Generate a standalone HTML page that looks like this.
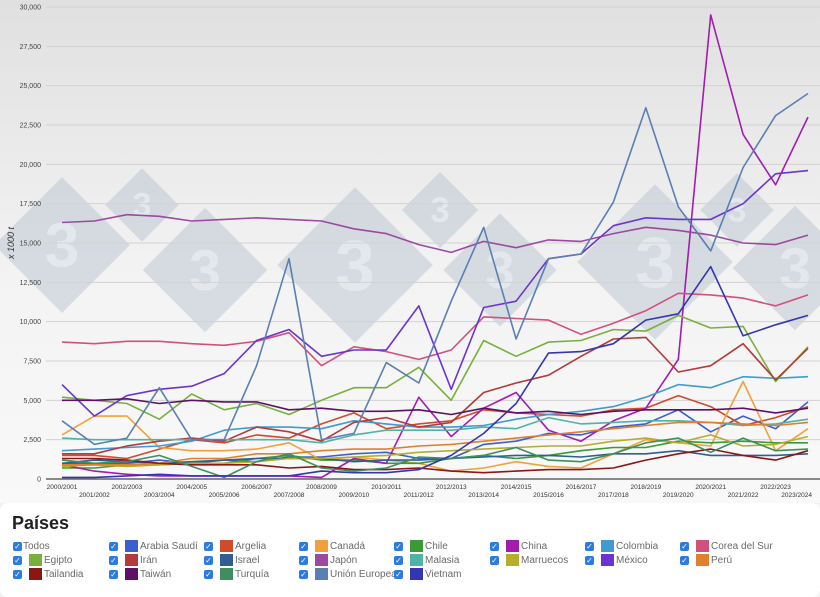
<!DOCTYPE html>
<html><head><meta charset="utf-8">
<style>
body{margin:0;width:820px;height:597px;overflow:hidden;font-family:"Liberation Sans",sans-serif;background:#f2f2f2;}
#wrap{position:relative;width:820px;height:597px;}
svg{position:absolute;left:0;top:0;}
#legend{position:absolute;left:0;top:503px;width:820px;height:94px;background:#fff;border-radius:8px;}
#legend h2{position:absolute;left:12px;top:10px;margin:0;font-size:18px;font-weight:bold;color:#222;}
.item{position:absolute;height:12px;font-size:10px;color:#6a6a6a;white-space:nowrap;}
.cb{position:absolute;left:0;top:1px;width:9px;height:9px;background:#2d7be0;border-radius:2px;color:#fff;font-size:8px;line-height:9px;text-align:center;}
.sw{position:absolute;left:16px;top:-1px;width:13px;height:12px;}
.lb{position:absolute;left:31px;top:0;line-height:12px;}
</style></head><body>
<div id="wrap">
<svg id="chart" width="820" height="503">
<defs><linearGradient id="bg" x1="0" y1="0" x2="0" y2="1"><stop offset="0" stop-color="#e0e0e0"/><stop offset="0.55" stop-color="#f3f3f3"/><stop offset="1" stop-color="#f9f9f9"/></linearGradient></defs>
<rect x="0" y="0" width="820" height="503" fill="url(#bg)"/>
<g id="wm"></g>
<g id="grid"></g><g id="series"></g><g id="axes"></g>
</svg>
<div id="legend"><h2>Países</h2></div>
</div>
<script>
const categories=["2000/2001","2001/2002","2002/2003","2003/2004","2004/2005","2005/2006","2006/2007","2007/2008","2008/2009","2009/2010","2010/2011","2011/2012","2012/2013","2013/2014","2014/2015","2015/2016","2016/2017","2017/2018","2018/2019","2019/2020","2020/2021","2021/2022","2022/2023","2023/2024"];
const yTicks=[0,2500,5000,7500,10000,12500,15000,17500,20000,22500,25000,27500,30000];
const seriesNames=["Arabia Saudí","Argelia","Canadá","Chile","China","Colombia","Corea del Sur","Egipto","Irán","Israel","Japón","Malasia","Marruecos","México","Perú","Tailandia","Taiwán","Turquía","Unión Europea","Vietnam"];
const seriesColors=["#3b5fcf","#d24a2c","#f2a13a","#3a9a35","#a21caf","#3f9bd0","#d4507c","#79b03c","#b23b3b","#2f5f92","#9a4aa0","#4fb3a8","#b5ad2e","#6a34d2","#e0802c","#8b1616","#5b1266","#3f8f5c","#5b7fb2","#3535b0"];
const sArabia=[1000,1000,1000,1200,1000,1200,1100,1400,1400,1600,1700,1300,1300,2200,2400,2900,2800,3300,3500,4400,3000,4000,3200,4900];
const sArgelia=[1500,1500,1300,1900,2500,2300,2800,2600,3500,4200,3200,3500,3700,4400,4200,4100,4000,4400,4500,5300,4600,3400,3900,4600];
const sCanada=[2800,4000,4000,2000,1800,1800,1900,2300,1200,1400,1200,1000,500,700,1100,800,700,1600,2500,2300,2100,6200,1800,3200];
const sChile=[700,700,900,900,1000,1000,1300,1500,1200,1200,1000,1000,1300,1500,1300,1500,1800,2000,2000,2400,2300,2400,2300,2300];
const sChina=[900,500,300,200,200,200,200,200,100,1300,1000,5200,2700,4500,5500,3100,2400,3700,4500,7600,29500,21900,18700,23000];
const sColombia=[1800,1900,2000,2100,2400,3100,3300,3300,3200,3700,3500,3300,3300,3400,3800,4100,4300,4600,5200,6000,5800,6500,6400,6500];
const sCorea=[8700,8600,8750,8750,8600,8500,8750,9300,7200,8400,8100,7600,8200,10300,10200,10100,9200,9900,10700,11800,11700,11500,11000,11700];
const sEgipto=[5200,5000,4800,3800,5400,4400,4800,4100,5000,5800,5800,7100,5000,8800,7800,8700,8800,9500,9400,10400,9600,9700,6200,8400];
const sIran=[1600,1600,2100,2400,2600,2400,3300,3000,2400,3600,3900,3300,3600,5500,6100,6600,7800,8900,9000,6800,7200,8600,6300,8300];
const sIsrael=[1000,1200,1100,1000,1100,1200,1300,1300,1300,1100,1200,1200,1300,1400,1500,1500,1400,1600,1600,1800,1500,1500,1500,1600];
const sJapon=[16300,16400,16800,16700,16400,16500,16600,16500,16400,15900,15600,14900,14400,15100,14700,15200,15100,15600,16000,15800,15500,15000,14900,15500];
const sMalasia=[2600,2500,2500,2500,2500,2500,2500,2500,2300,2800,3100,3100,3100,3300,3200,3900,3500,3600,3700,3700,3600,3400,3500,3800];
const sMarruecos=[800,900,800,900,1000,1000,1100,1300,1300,1400,1500,1700,1800,1900,2000,2100,2100,2400,2600,2300,2800,2100,2200,2700];
const sMexico=[6000,4000,5300,5700,5900,6700,8800,9500,7800,8200,8200,11000,5700,10900,11300,14000,14300,16100,16600,16500,16500,17500,19400,19600];
const sPeru=[900,900,900,1000,1300,1300,1600,1600,1800,1900,1900,2100,2200,2400,2600,2800,3000,3200,3400,3600,3600,3500,3400,3600];
const sTailandia=[1300,1300,1200,1000,900,900,900,700,800,600,600,700,500,400,500,600,600,700,1200,1600,1900,1500,1200,1800];
const sTaiwan=[5000,5000,5100,4800,5000,4900,4900,4400,4500,4300,4300,4400,4100,4500,4200,4300,4100,4300,4400,4400,4400,4500,4200,4500];
const sTurquia=[1200,1000,1100,1500,800,100,1100,1600,700,500,700,1400,1300,1500,2000,1200,1100,1600,2300,2600,1700,2600,1800,1900];
const sUE=[3700,2200,2600,5800,2500,2500,7200,14000,2500,2900,7400,6100,11300,16000,8900,14000,14300,17600,23600,17300,14500,19800,23100,24500];
const sVietnam=[100,100,200,300,200,200,200,200,500,400,400,600,1500,2900,4800,8000,8100,8600,10100,10500,13500,9100,9800,10400];
const seriesValues=[sArabia,sArgelia,sCanada,sChile,sChina,sColombia,sCorea,sEgipto,sIran,sIsrael,sJapon,sMalasia,sMarruecos,sMexico,sPeru,sTailandia,sTaiwan,sTurquia,sUE,sVietnam];

const NS="http://www.w3.org/2000/svg";
const X0=62,X1=808,Y0=479,Y1=7,YMAX=30000;
function xPos(i){return X0+i*(X1-X0)/(categories.length-1);}
function yPos(v){return Y0-(v/YMAX)*(Y0-Y1);}
function mk(tag,attrs,parent){const e=document.createElementNS(NS,tag);for(const k in attrs)e.setAttribute(k,attrs[k]);parent.appendChild(e);return e;}

const wm=document.getElementById('wm');
[[62,245,48],[142,205,26],[205,270,44],[355,265,55],[440,210,27],[500,270,40],[655,262,55],[737,210,26],[795,268,44]].forEach(function(d){
  const g=mk('g',{transform:'translate('+d[0]+','+d[1]+') rotate(45)'},wm);
  
  
  mk('rect',{x:-d[2],y:-d[2],width:2*d[2],height:2*d[2],fill:'#b9c4d2',opacity:0.5},g);
  const t=mk('text',{x:0,y:d[2]*0.45,'text-anchor':'middle','font-size':d[2]*1.3,'font-weight':'bold',fill:'#e6eaef',opacity:0.9,transform:'rotate(-45)','font-family':'Liberation Sans, sans-serif'},g);
  t.textContent='3';
});

const grid=document.getElementById('grid'),axes=document.getElementById('axes');
yTicks.forEach(function(v){
  const l=mk('line',{x1:46,x2:820,y1:yPos(v),y2:yPos(v),stroke:v===0?'#444':'#d2d2d2','stroke-width':v===0?1.2:1},grid);
  
  
  const t=mk('text',{x:41,y:yPos(v)+2.5,'text-anchor':'end','font-size':7,fill:'#444'},axes);
  
  
  t.textContent=v.toLocaleString('en-US');
});
categories.forEach(function(c,i){
  const last=i===categories.length-1;
  const t=mk('text',{x:last?812:xPos(i),y:i%2===0?489:497,'text-anchor':last?'end':'middle','font-size':6.5,fill:'#333'},axes);
  
  
  t.textContent=c;
});
const yt=mk('text',{x:14,y:243,'text-anchor':'middle','font-size':9,'font-style':'italic',fill:'#333',transform:'rotate(-90 14 243)'},axes);


yt.textContent='x 1000 t';

const sg=document.getElementById('series');
seriesValues.forEach(function(vals,k){
  const pts=vals.map(function(v,i){return xPos(i).toFixed(1)+','+yPos(v).toFixed(1);}).join(' ');
  const p=mk('polyline',{points:pts,fill:'none',stroke:seriesColors[k],'stroke-width':1.6,'stroke-linejoin':'round'},sg);
  
  
});

const legend=document.getElementById('legend');
const order=["Todos","Arabia Saudí","Argelia","Canadá","Chile","China","Colombia","Corea del Sur","Egipto","Irán","Israel","Japón","Malasia","Marruecos","México","Perú","Tailandia","Taiwán","Turquía","Unión Europea","Vietnam"];
const colX=[13,109,204,299,394,490,585,680];
order.forEach(function(n,i){
  const d=document.createElement('div');d.className='item';
  d.style.left=colX[i%8]+'px';d.style.top=(38+Math.floor(i/8)*14)+'px';
  
  
  let h='<span class="cb">✓</span>';
  if(n==='Todos'){h+='<span class="lb" style="left:10px">Todos</span>';}
  else{const k=seriesNames.indexOf(n);h+='<span class="sw" style="background:'+seriesColors[k]+'"></span><span class="lb">'+n+'</span>';}
  d.innerHTML=h;legend.appendChild(d);
});
</script>
</body></html>
